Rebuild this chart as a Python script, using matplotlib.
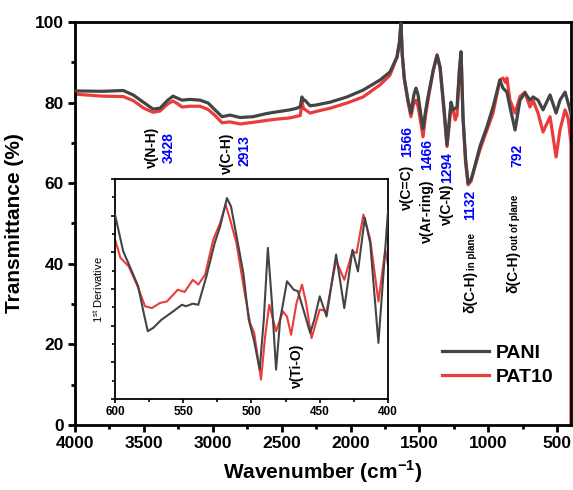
import matplotlib
matplotlib.use("Agg")
import matplotlib.pyplot as plt
from matplotlib.ticker import MultipleLocator

plt.rcParams['font.family'] = ['Liberation Sans', 'DejaVu Sans']
plt.rcParams['mathtext.fontset'] = 'custom'
plt.rcParams['mathtext.rm'] = 'Liberation Sans'
plt.rcParams['mathtext.bf'] = 'Liberation Sans:bold'

# ---- main FTIR spectra ----
pani_x = [4000, 3800, 3650, 3578, 3500, 3434, 3383, 3330, 3289, 3250, 3223, 3166, 3093, 3034,
          2984, 2933, 2875, 2802, 2708, 2607, 2535, 2440, 2390, 2365, 2353, 2340, 2331, 2294,
          2250, 2149, 2026, 1909, 1786, 1714, 1663, 1645, 1634, 1625, 1610, 1583, 1562, 1540,
          1525, 1510, 1490, 1474, 1455, 1438, 1400, 1372, 1350, 1320, 1300, 1285, 1271, 1256,
          1227, 1210, 1198, 1184, 1165, 1147, 1125, 1111, 1061, 1010, 966, 916, 894, 865, 843,
          806, 770, 734, 698, 675, 639, 603, 552, 508, 480, 443, 407, 400]
pani_y = [82.9, 82.8, 83.0, 81.9, 80.0, 78.4, 78.6, 80.5, 81.6, 81.0, 80.6, 80.8, 80.6, 79.9,
          78.2, 76.5, 76.9, 76.3, 76.5, 77.3, 77.7, 78.2, 78.6, 79.0, 81.4, 80.5, 80.6, 79.2,
          79.4, 80.1, 81.4, 83.1, 85.6, 87.6, 91.3, 95.0, 99.7, 92.0, 86.0, 80.6, 77.4, 82.0,
          83.6, 81.9, 77.0, 73.5, 78.0, 81.4, 88.0, 91.8, 88.8, 78.0, 69.5, 75.0, 80.1, 78.2,
          78.9, 88.0, 92.6, 76.5, 66.0, 60.0, 61.0, 62.5, 69.1, 74.0, 78.9, 85.6, 83.6, 82.6, 78.9,
          73.2, 80.6, 82.4, 80.6, 81.4, 80.6, 78.2, 81.9, 77.4, 80.6, 82.6, 78.2, 77.0]

pat_x = [4000, 4000, 3800, 3650, 3578, 3500, 3434, 3383, 3330, 3289, 3250, 3223, 3166, 3093,
         3034, 2984, 2933, 2875, 2802, 2708, 2607, 2535, 2440, 2390, 2365, 2353, 2340, 2331,
         2294, 2250, 2149, 2026, 1909, 1786, 1714, 1663, 1645, 1634, 1625, 1610, 1583, 1562,
         1540, 1525, 1510, 1490, 1474, 1455, 1438, 1400, 1372, 1350, 1320, 1300, 1285, 1271,
         1256, 1240, 1227, 1210, 1198, 1184, 1165, 1147, 1125, 1111, 1061, 1010, 966, 916, 894,
         875, 865, 843, 806, 770, 734, 698, 675, 639, 603, 552, 508, 480, 443, 420, 407, 400, 400]
pat_y = [0, 82.1, 81.6, 81.5, 80.5, 78.6, 77.6, 77.9, 79.6, 80.4, 79.6, 78.9, 79.1, 79.1,
         78.3, 76.8, 75.0, 75.2, 74.7, 75.1, 75.6, 75.9, 76.2, 76.6, 76.8, 80.1, 78.5, 78.3,
         77.4, 77.8, 78.6, 79.9, 81.4, 84.4, 86.8, 91.3, 95.0, 100.0, 92.0, 86.0, 80.1, 76.5,
         80.0, 80.6, 79.0, 75.0, 71.5, 77.0, 80.6, 88.0, 91.8, 88.5, 77.0, 69.1, 74.0, 79.1,
         78.2, 75.7, 77.0, 88.0, 92.6, 76.5, 65.0, 59.6, 60.5, 62.5, 68.3, 73.2, 77.4, 85.6, 86.1,
         85.0, 86.1, 80.6, 77.4, 81.5, 82.6, 78.9, 80.5, 77.4, 72.7, 76.5, 66.5, 73.2, 78.2, 76.0,
         72.0, 70.0, 0]

# ---- inset: 1st derivative, 600-400 cm-1 (arbitrary units) ----
ins_pani_x = [600, 594, 589, 583, 579, 576, 572, 566, 557, 551, 548, 543, 539, 533, 527, 523,
              518, 515, 510, 506, 502, 498, 494, 491, 488, 485, 482, 479, 474, 469, 466, 462,
              457, 454, 450, 445, 438, 432, 426, 422, 417, 413, 407, 404, 400]
ins_pani_y = [5.03, 4.03, 3.6, 3.07, 2.35, 1.85, 1.94, 2.16, 2.4, 2.57, 2.53, 2.6, 2.57, 3.35,
              4.25, 4.7, 5.48, 5.25, 4.25, 3.44, 2.16, 1.57, 0.8, 2.16, 4.12, 2.62, 0.8, 2.16,
              3.21, 2.98, 2.94, 2.44, 1.8, 2.16, 2.8, 2.25, 3.94, 2.48, 4.07, 3.48, 4.94, 4.25,
              1.53, 3.07, 5.12]
ins_pat_x = [600, 596, 590, 584, 578, 573, 567, 562, 554, 549, 543, 539, 534, 528, 523, 519,
             516, 511, 505, 501, 498, 493, 490, 487, 482, 477, 474, 471, 467, 463, 460, 456,
             450, 445, 438, 432, 426, 423, 418, 413, 407, 402, 400]
ins_pat_y = [4.35, 3.85, 3.62, 3.12, 2.53, 2.48, 2.62, 2.66, 2.98, 2.92, 3.25, 3.12, 3.39, 4.35,
             4.8, 5.3, 4.94, 4.25, 2.89, 2.07, 1.8, 0.53, 1.71, 2.57, 1.85, 2.39, 2.25, 1.75,
             2.62, 3.12, 2.62, 1.66, 2.44, 2.4, 3.78, 3.25, 4.03, 3.98, 5.03, 4.35, 2.66, 4.07,
             3.66]

gray = '#444444'
red = '#ec3b3b'

fig = plt.figure(figsize=(5.73, 4.90), dpi=100)
ax = fig.add_axes([0.1309, 0.1327, 0.8656, 0.8224])

ax.plot(pani_x, pani_y, color=gray, lw=2.3, label='PANI', zorder=3)
ax.plot(pat_x, pat_y, color=red, lw=2.3, label='PAT10', zorder=2)

ax.set_xlim(4000, 400)
ax.set_ylim(0, 100)
ax.xaxis.set_major_locator(MultipleLocator(500))
ax.xaxis.set_minor_locator(MultipleLocator(250))
ax.yaxis.set_major_locator(MultipleLocator(20))
ax.yaxis.set_minor_locator(MultipleLocator(10))
ax.tick_params(which='major', direction='out', length=5, width=2, labelsize=12.5, pad=3)
ax.tick_params(which='minor', direction='out', length=3, width=2)
for lab in ax.get_xticklabels() + ax.get_yticklabels():
    lab.set_fontweight('bold')
for s in ax.spines.values():
    s.set_linewidth(2)
ax.set_xlabel(r'Wavenumber (cm$^{\mathbf{-1}}$)', fontsize=15, fontweight='bold', labelpad=5)
ax.set_ylabel('Transmittance (%)', fontsize=15, fontweight='bold', labelpad=8)

# band assignments (rotated)
tk = dict(rotation=90, fontsize=10, fontweight='bold', ha='center', va='bottom')
tc = dict(rotation=90, fontsize=10, fontweight='bold', ha='center', va='center')
ax.text(3440, 69.0, 'ν(N-H)', color='black', **tc)
ax.text(3318, 68.9, '3428', color='blue', **tc)
ax.text(2895, 67.5, 'ν(C-H)', color='black', **tc)
ax.text(2770, 68.2, '2913', color='blue', **tc)

ax.text(1590, 53.3, 'ν(C=C)', color='black', **tk)
ax.text(1590, 66.5, '1566', color='blue', **tk)
ax.text(1445, 45.2, 'ν(Ar-ring)', color='black', **tk)
ax.text(1445, 63.3, '1466', color='blue', **tk)
ax.text(1300, 49.6, 'ν(C-N)', color='black', **tk)
ax.text(1300, 60.0, '1294', color='blue', **tk)
ax.text(1133, 27.8, 'δ(C-H)', color='black', **tk)
ax.text(1118, 38.5, 'in plane', color='black', rotation=90, fontsize=7, fontweight='bold',
        ha='center', va='bottom')
ax.text(1133, 50.9, '1132', color='blue', **tk)
ax.text(821, 32.8, 'δ(C-H)', color='black', **tk)
ax.text(806, 43.4, 'out of plane', color='black', rotation=90, fontsize=7, fontweight='bold',
        ha='center', va='bottom')
ax.text(792, 64.0, '792', color='blue', **tk)

ax.legend(loc='center left', bbox_to_anchor=(0.755, 0.255), bbox_transform=fig.transFigure,
          frameon=False, handlelength=2.4, handletextpad=0.35, labelspacing=0.3,
          borderpad=0, prop={'size': 14, 'weight': 'bold'})

# inset
ins = fig.add_axes([0.2007, 0.1857, 0.4764, 0.449])
ins.plot(ins_pani_x, ins_pani_y, color=gray, lw=1.5, zorder=3)
ins.plot(ins_pat_x, ins_pat_y, color=red, lw=1.5, zorder=2)
ins.set_xlim(600, 400)
ins.set_ylim(0, 6)
ins.xaxis.set_major_locator(MultipleLocator(50))
ins.xaxis.set_minor_locator(MultipleLocator(25))
ins.yaxis.set_major_locator(MultipleLocator(1))
ins.yaxis.set_minor_locator(MultipleLocator(0.5))
ins.tick_params(which='major', direction='out', length=3, width=1.2, labelsize=8.5, pad=2)
ins.tick_params(which='minor', direction='out', length=2, width=1.2)
ins.tick_params(axis='y', labelleft=False)
for lab in ins.get_xticklabels():
    lab.set_fontweight('bold')
for s in ins.spines.values():
    s.set_linewidth(1.3)
ins.text(467, 0.9, 'ν(Ti-O)', rotation=90, fontsize=10, fontweight='bold',
         ha='center', va='center')
ins.text(-0.062, 0.495, r'1$^{\rm st}$ Derivative', rotation=90, fontsize=8,
         ha='center', va='center', transform=ins.transAxes)

fig.savefig('out.png', dpi=100)
